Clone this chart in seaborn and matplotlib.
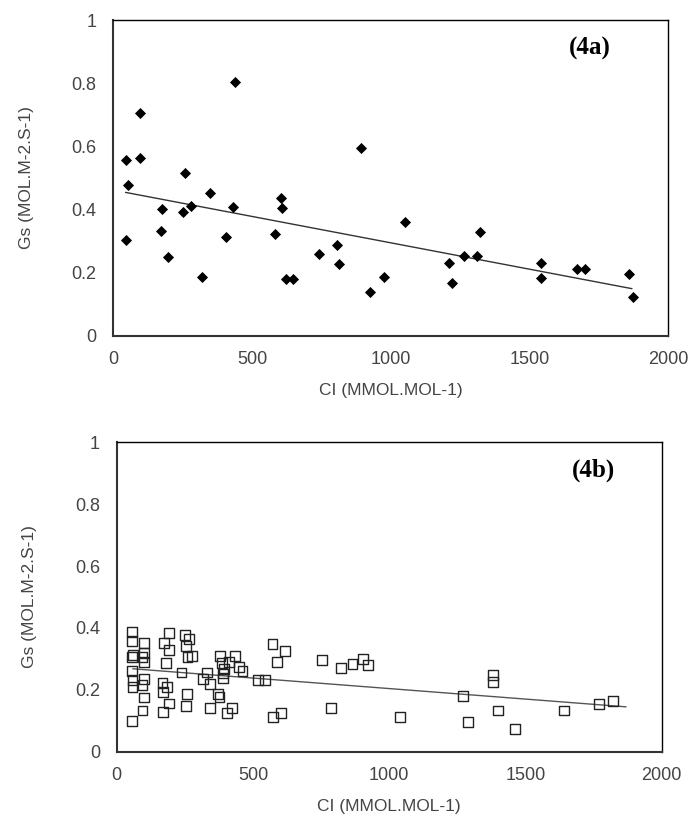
import matplotlib
matplotlib.use("Agg")
import matplotlib.pyplot as plt
import seaborn as sns
import pandas as pd

# Panel 4a - CI vs Gs
ci_a = [44, 44, 54, 96, 96, 175, 171, 197, 259, 252, 280, 321, 347, 405, 431, 440,
        581, 604, 607, 621, 649, 742, 806, 814, 894, 926, 975, 1050, 1211, 1220,
        1262, 1310, 1322, 1541, 1541, 1671, 1701, 1859, 1871]
gs_a = [0.303, 0.558, 0.476, 0.707, 0.564, 0.400, 0.332, 0.249, 0.515, 0.392, 0.410,
        0.185, 0.452, 0.312, 0.408, 0.804, 0.322, 0.437, 0.403, 0.179, 0.179, 0.259,
        0.286, 0.226, 0.595, 0.138, 0.186, 0.360, 0.229, 0.167, 0.252, 0.252, 0.328,
        0.231, 0.184, 0.210, 0.210, 0.197, 0.123]
trend_a_x = [44, 1869]
trend_a_y = [0.454, 0.149]

# Panel 4b
ci_b = [55, 55, 55, 61, 55, 58, 58, 55, 100, 100, 95, 100, 100, 95, 100, 95,
        174, 193, 192, 180, 168, 171, 186, 192, 171, 252, 265, 254, 260, 275, 238,
        259, 254, 318, 330, 342, 342, 373, 377, 379, 385, 389, 389, 404, 422, 413,
        434, 395, 450, 462, 520, 544, 572, 618, 587, 575, 603, 752, 785, 824, 865,
        905, 923, 1040, 1270, 1290, 1382, 1382, 1400, 1462, 1641, 1771, 1820]
gs_b = [0.388, 0.359, 0.307, 0.313, 0.262, 0.232, 0.208, 0.100, 0.350, 0.318, 0.307,
        0.289, 0.234, 0.216, 0.175, 0.133, 0.350, 0.383, 0.329, 0.288, 0.221, 0.192,
        0.208, 0.156, 0.127, 0.376, 0.363, 0.342, 0.305, 0.309, 0.256, 0.186, 0.149,
        0.236, 0.256, 0.218, 0.140, 0.186, 0.178, 0.309, 0.286, 0.253, 0.237, 0.124,
        0.140, 0.291, 0.310, 0.267, 0.275, 0.261, 0.232, 0.232, 0.347, 0.326, 0.291,
        0.113, 0.126, 0.296, 0.140, 0.271, 0.284, 0.299, 0.280, 0.111, 0.181, 0.095,
        0.247, 0.226, 0.133, 0.073, 0.133, 0.155, 0.165]
trend_b_x = [59, 1869]
trend_b_y = [0.268, 0.145]

x_ticks = [0, 500, 1000, 1500, 2000]
y_ticks = [0, 0.2, 0.4, 0.6, 0.8, 1]
y_labels = ["0", "0.2", "0.4", "0.6", "0.8", "1"]

sns.set_style("white")
plt.rcParams["font.family"] = ["Liberation Sans", "DejaVu Sans"]

fig = plt.figure(figsize=(6.88, 8.21), dpi=100)
ax_a = fig.add_axes([0.1647, 0.5911, 0.8067, 0.3845])
ax_b = fig.add_axes([0.1696, 0.0844, 0.7922, 0.3769])

df_a = pd.DataFrame({"ci": ci_a, "gs": gs_a})
df_b = pd.DataFrame({"ci": ci_b, "gs": gs_b})

sns.scatterplot(data=df_a, x="ci", y="gs", marker="D", s=32, color="black",
                edgecolor="black", linewidth=0, ax=ax_a, zorder=3)
sns.lineplot(x=trend_a_x, y=trend_a_y, color="#333333", linewidth=1, ax=ax_a)

sns.scatterplot(data=df_b, x="ci", y="gs", marker="s", s=50, facecolor="none",
                edgecolor="#222222", linewidth=1.0, ax=ax_b, zorder=3)
sns.lineplot(x=trend_b_x, y=trend_b_y, color="#555555", linewidth=1, ax=ax_b)

label_col = "#444444"
for ax, tag, tx in [(ax_a, "(4a)", 0.859), (ax_b, "(4b)", 0.874)]:
    ax.set_xlim(0, 2000)
    ax.set_ylim(0, 1)
    ax.set_xticks(x_ticks)
    ax.set_yticks(y_ticks)
    ax.set_yticklabels(y_labels)
    ax.tick_params(axis="x", direction="in", length=5, labelsize=13,
                   labelcolor=label_col, pad=11, color="#444444")
    ax.tick_params(axis="y", direction="out", length=6, labelsize=13,
                   labelcolor=label_col, pad=6, color="#444444")
    ax.set_xlabel("CI (MMOL.MOL-1)", fontsize=12.5, color=label_col, labelpad=11)
    ax.set_ylabel("Gs (MOL.M-2.S-1)", fontsize=12.5, color=label_col, labelpad=27)
    for side in ["left", "bottom"]:
        ax.spines[side].set_color("#333333")
        ax.spines[side].set_linewidth(1.5)
    for side in ["top", "right"]:
        ax.spines[side].set_color("black")
        ax.spines[side].set_linewidth(1.0)
    ax.text(tx, 0.91, tag, transform=ax.transAxes, ha="center", va="center",
            fontsize=18, fontweight="bold", family="Liberation Serif", color="black")

fig.savefig("out.png", dpi=100)
